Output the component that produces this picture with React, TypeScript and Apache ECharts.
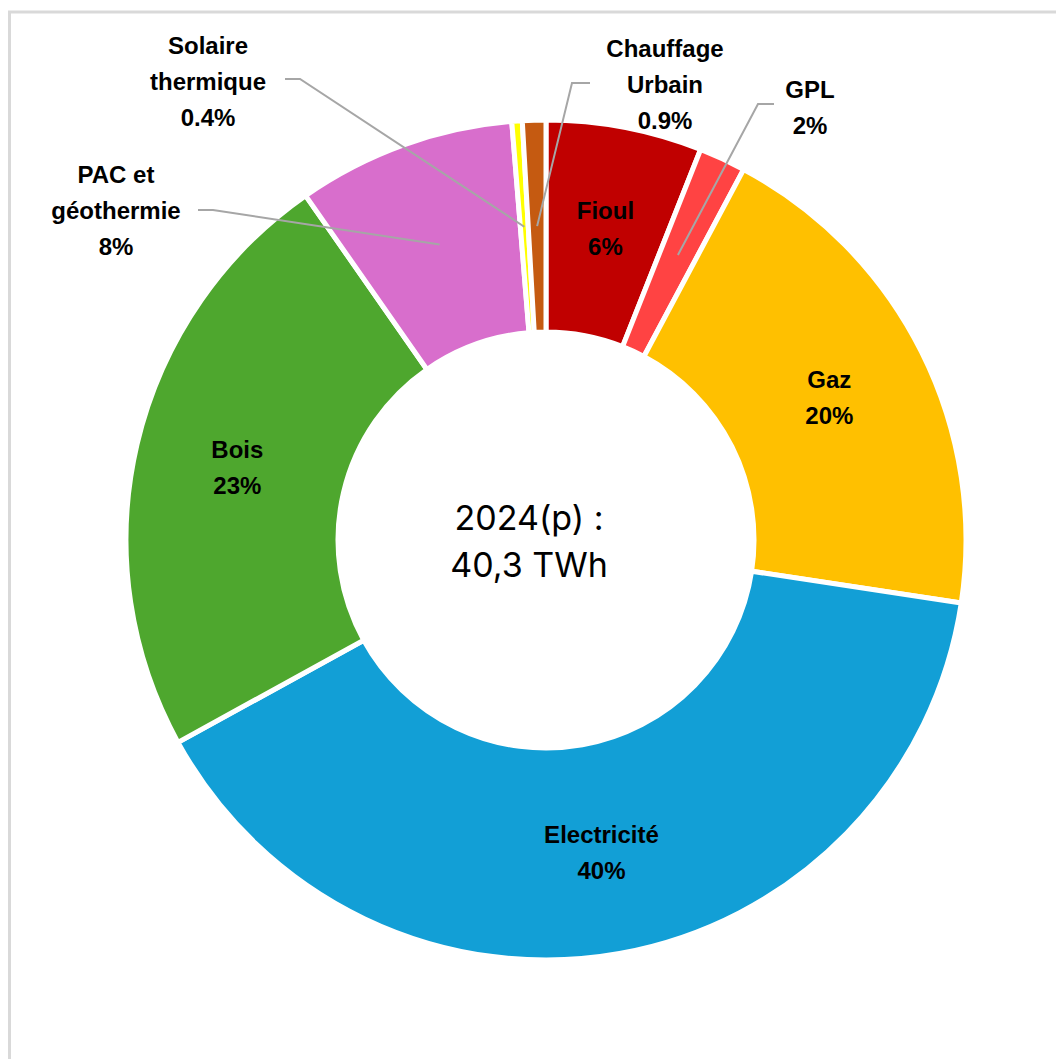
import React, { useEffect, useRef } from "react";
import * as echarts from "echarts";

// ---- data ----
const categories = [
  "Fioul",
  "GPL",
  "Gaz",
  "Electricité",
  "Bois",
  "PAC et\ngéothermie",
  "Solaire\nthermique",
  "Chauffage\nUrbain",
];
const shares = [6.0, 1.8, 19.6, 39.6, 23.3, 8.4, 0.4, 0.9];
const shareLabels = ["6%", "2%", "20%", "40%", "23%", "8%", "0.4%", "0.9%"];
const colors = [
  "#C00000",
  "#FF4343",
  "#FFC000",
  "#129FD6",
  "#4EA72E",
  "#D86ECC",
  "#FFFF00",
  "#C55A11",
];
const centerText = "2024(p) :\n40,3 TWh";

// ---- layout ----
const CX = 546;
const CY = 540;
const R0 = 208;
const R1 = 420;
const outsideLayout: Record<number, { x: number; y: number; lineY: number; elbowX: number; startX: number }> = {
  1: { x: 810, y: 107, lineY: 104, elbowX: 758, startX: 774 },
  5: { x: 116, y: 210, lineY: 210, elbowX: 213, startX: 198 },
  6: { x: 208, y: 81, lineY: 79, elbowX: 300, startX: 285 },
  7: { x: 665, y: 84, lineY: 83, elbowX: 572, startX: 590 },
};

function midPoint(i: number) {
  const total = shares.reduce((a, b) => a + b, 0);
  let start = 0;
  for (let k = 0; k < i; k++) start += shares[k];
  const a = ((start + shares[i] / 2) / total) * Math.PI * 2;
  const rm = (R0 + R1) / 2;
  return [CX + rm * Math.sin(a), CY - rm * Math.cos(a)];
}

export default function App() {
  const ref = useRef<HTMLDivElement>(null);
  useEffect(() => {
    if (!ref.current) return;
    const chart = echarts.init(ref.current, undefined, { renderer: "svg" });
    const labelFont = {
      fontFamily: "Liberation Sans",
      fontWeight: "bold" as const,
      fontSize: 24,
      lineHeight: 36,
      color: "#000",
      textBorderWidth: 0,
    };
    const leaderLines = Object.keys(outsideLayout).map((k) => {
      const i = Number(k);
      const o = outsideLayout[i];
      const end = midPoint(i);
      return {
        type: "polyline",
        z: 100,
        silent: true,
        shape: { points: [[o.startX, o.lineY], [o.elbowX, o.lineY], end] },
        style: { stroke: "#A6A6A6", lineWidth: 2, fill: "none" },
      };
    });
    chart.setOption({
      animation: false,
      backgroundColor: "#fff",
      graphic: [
        {
          type: "rect",
          shape: { x: 9.5, y: 12, width: 1200, height: 1200 },
          style: { fill: "none", stroke: "#D9D9D9", lineWidth: 3 },
          silent: true,
        },
        {
          type: "text",
          x: 529,
          y: 541,
          style: {
            text: centerText,
            font: "34px Inter",
            lineHeight: 47,
            textAlign: "center",
            textVerticalAlign: "middle",
            fill: "#000",
          },
        },
        ...leaderLines,
      ],
      series: [
        {
          type: "pie",
          center: [CX, CY],
          radius: [R0, R1],
          startAngle: 90,
          clockwise: true,
          avoidLabelOverlap: false,
          itemStyle: { borderColor: "#fff", borderWidth: 5 },
          emphasis: { disabled: true },
          label: {
            ...labelFont,
            formatter: (p: any) => `${p.name}\n${shareLabels[p.dataIndex]}`,
          },
          labelLine: { show: false },
          labelLayout: (params: any) => {
            const o = outsideLayout[params.dataIndex];
            if (!o) return {};
            return { x: o.x, y: o.y, align: "center", verticalAlign: "middle" };
          },
          data: categories.map((name, i) => {
            const outside = outsideLayout[i] !== undefined;
            return {
              name,
              value: shares[i],
              itemStyle: { color: colors[i] },
              label: { position: outside ? "outside" : "inside" },
              labelLine: { show: false },
            };
          }),
        },
      ],
    });
    return () => chart.dispose();
  }, []);
  return (
    <div
      ref={ref}
      style={{ position: "absolute", left: 0, top: 0, width: 1056, height: 1059 }}
    />
  );
}
